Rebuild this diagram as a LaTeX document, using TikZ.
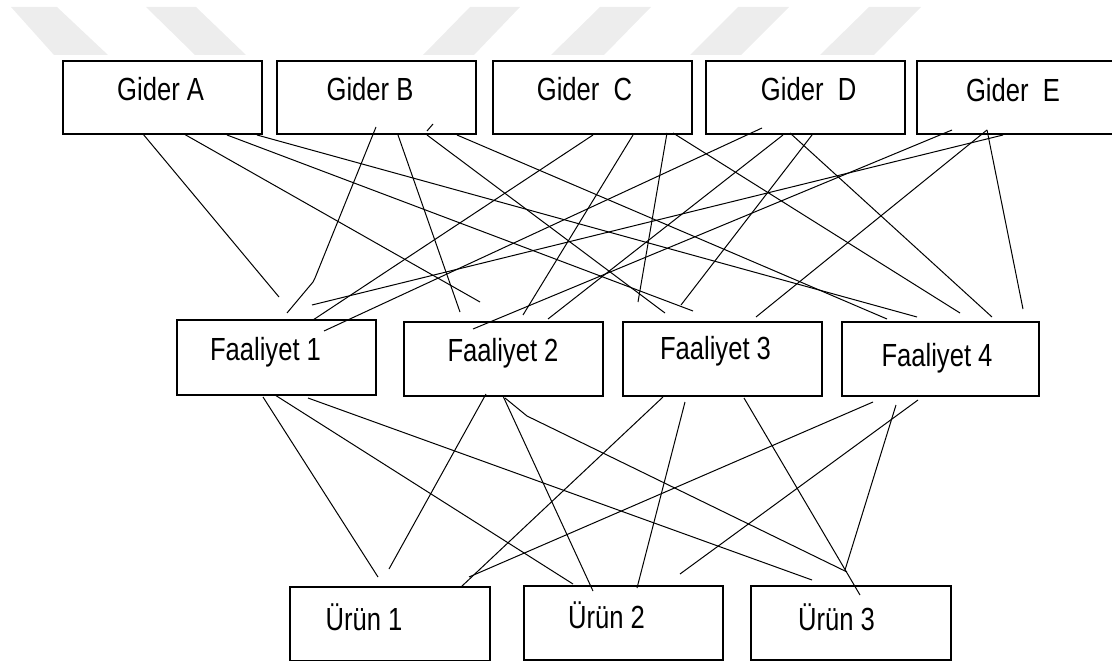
\documentclass[tikz,border=0pt]{standalone}
\usepackage{fontspec}
\setmainfont{Liberation Sans}[FakeStretch=0.8]
\usetikzlibrary{calc}
\tikzset{
  box/.style={draw=black, line width=1.6pt, minimum width=199pt, minimum height=74pt, anchor=north west, inner sep=0pt, outer sep=0pt},
  lbl/.style={anchor=base, inner sep=0pt, font=\fontsize{32}{38}\selectfont},
  conn/.style={line width=1pt, black, line join=round},
  wm/.style={fill=black!7, draw=none}
}
\begin{document}
\begin{tikzpicture}[x=1pt, y=-1pt]
\useasboundingbox (0,0) rectangle (1112,661);
% watermark
\fill[wm] (11,7) -- (57,7) -- (108,55) -- (54,55) -- cycle;
\fill[wm] (146,7) -- (196,7) -- (246,55) -- (195,55) -- cycle;
\fill[wm] (470,7) -- (520,7) -- (474,55) -- (423,55) -- cycle;
\fill[wm] (600,7) -- (651,7) -- (604,55) -- (551,55) -- cycle;
\fill[wm] (738,7) -- (789,7) -- (741,55) -- (690,55) -- cycle;
\fill[wm] (869,7) -- (921,7) -- (874,55) -- (820,55) -- cycle;
% boxes
\node[box, minimum height=73pt] (ga) at (63,61) {};
\node[box, minimum height=73pt] (gb) at (277,61) {};
\node[box, minimum height=73pt] (gc) at (493,61) {};
\node[box, minimum height=73pt] (gd) at (706,61) {};
\node[box, minimum height=73pt] (ge) at (917,61) {};
\node[box, minimum height=75pt] (f1) at (177,320) {};
\node[box] (f2) at (404,322) {};
\node[box] (f3) at (623,322) {};
\node[box, minimum width=197pt] (f4) at (842,322) {};
\node[box, minimum width=200pt] (u1) at (290,587) {};
\node[box] (u2) at (524,586) {};
\node[box, minimum width=200pt] (u3) at (751,586) {};
% labels
\node[lbl] (gat) at (160.6,101) {Gider A};
\node[lbl] (gbt) at (370,101) {Gider B};
\node[lbl] (gct) at (584.5,101) {Gider\ \ C};
\node[lbl] (gdt) at (808.6,100) {Gider\ \ D};
\node[lbl] (get) at (1013,101.5) {Gider\ \ E};
\node[lbl] (f1t) at (265.5,360) {Faaliyet 1};
\node[lbl] (f2t) at (503,361) {Faaliyet 2};
\node[lbl] (f3t) at (715.5,359) {Faaliyet 3};
\node[lbl] (f4t) at (937,366.5) {Faaliyet 4};
\node[lbl] (u1t) at (364,630) {Ürün 1};
\node[lbl] (u2t) at (606.5,628) {Ürün 2};
\node[lbl] (u3t) at (836.5,630) {Ürün 3};
% Gider A
\draw[conn] ($(ga.south west)+(80,0)$) -- ($(f1.north west)+(102,-23)$);
\draw[conn] ($(ga.south west)+(121,0)$) -- ($(f2.north west)+(76,-20)$);
\draw[conn] ($(ga.south west)+(164,1)$) -- ($(f3.north west)+(70,-11)$);
\draw[conn] ($(ga.south west)+(194,1)$) -- ($(f4.north west)+(75,-5)$);
% Gider B
\draw[conn] ($(gb.south west)+(99,-7)$) -- ($(f1.north west)+(138,-42)$) -- ($(f1.north west)+(136,-38)$) -- ($(f1.north west)+(110,-7)$);
\draw[conn] ($(gb.south west)+(121,1)$) -- ($(f2.north west)+(56,-10)$);
\draw[conn] ($(gb.south west)+(156,-10)$) -- ($(gb.south west)+(150,-3)$) ($(gb.south west)+(150,1)$) -- ($(f3.north west)+(42,-9)$);
\draw[conn] ($(gb.south west)+(180,1)$) -- ($(f4.north west)+(45,-3)$);
% Gider C
\draw[conn] ($(gc.south west)+(100,1)$) -- ($(f1.north west)+(136,0)$);
\draw[conn] ($(gc.south west)+(140,1)$) -- ($(f2.north west)+(119,-7)$);
\draw[conn] ($(gc.south west)+(174,-1)$) -- ($(f3.north west)+(15,-20)$);
\draw[conn] ($(gc.south west)+(180,-1)$) -- ($(f4.north west)+(118,-9)$);
% Gider D
\draw[conn] ($(gd.south west)+(56,-6)$) -- ($(f1.north west)+(147,11)$);
\draw[conn] ($(gd.south west)+(77,1)$) -- ($(f2.north west)+(144,-3)$);
\draw[conn] ($(gd.south west)+(106,1)$) -- ($(f3.north west)+(58,-17)$);
\draw[conn] ($(gd.south west)+(84,-1)$) -- ($(f4.north west)+(150,-5)$);
% Gider E
\draw[conn] ($(ge.south west)+(86,1)$) -- ($(f1.north west)+(135,-15)$);
\draw[conn] ($(ge.south west)+(35,-4)$) -- ($(f2.north west)+(69,7)$);
\draw[conn] ($(ge.south west)+(70,-4)$) -- ($(f3.north west)+(133,-5)$);
\draw[conn] ($(ge.south west)+(70,-4)$) -- ($(f4.north west)+(181,-13)$);
% Faaliyet 1
\draw[conn] ($(f1.south west)+(86,2)$) -- ($(u1.north west)+(88,-10)$);
\draw[conn] ($(f1.south west)+(98,0)$) -- ($(u2.north west)+(49,-2)$);
\draw[conn] ($(f1.south west)+(131,3)$) -- ($(u3.north west)+(61,-6)$);
% Faaliyet 2
\draw[conn] ($(f2.south west)+(82,-2)$) -- ($(u1.north west)+(99,-18)$);
\draw[conn] ($(f2.south west)+(99,0)$) -- ($(u2.north west)+(69,5)$);
\draw[conn] ($(f2.south west)+(101,2)$) -- ($(f2.south west)+(123,20)$) -- ($(u3.north west)+(96,-14)$);
% Faaliyet 3
\draw[conn] ($(f3.south west)+(40,1)$) -- ($(u1.north west)+(171,0)$);
\draw[conn] ($(f3.south west)+(62,6)$) -- ($(u2.north west)+(113,2)$);
\draw[conn] ($(f3.south west)+(121,2)$) -- ($(u3.north west)+(109,9)$);
% Faaliyet 4
\draw[conn] ($(f4.south west)+(31,6)$) -- ($(u1.north west)+(179,-10)$);
\draw[conn] ($(f4.south west)+(76,4)$) -- ($(u2.north west)+(156,-12)$);
\draw[conn] ($(f4.south west)+(54,9)$) -- ($(u3.north west)+(94,-16)$);
\end{tikzpicture}
\end{document}
